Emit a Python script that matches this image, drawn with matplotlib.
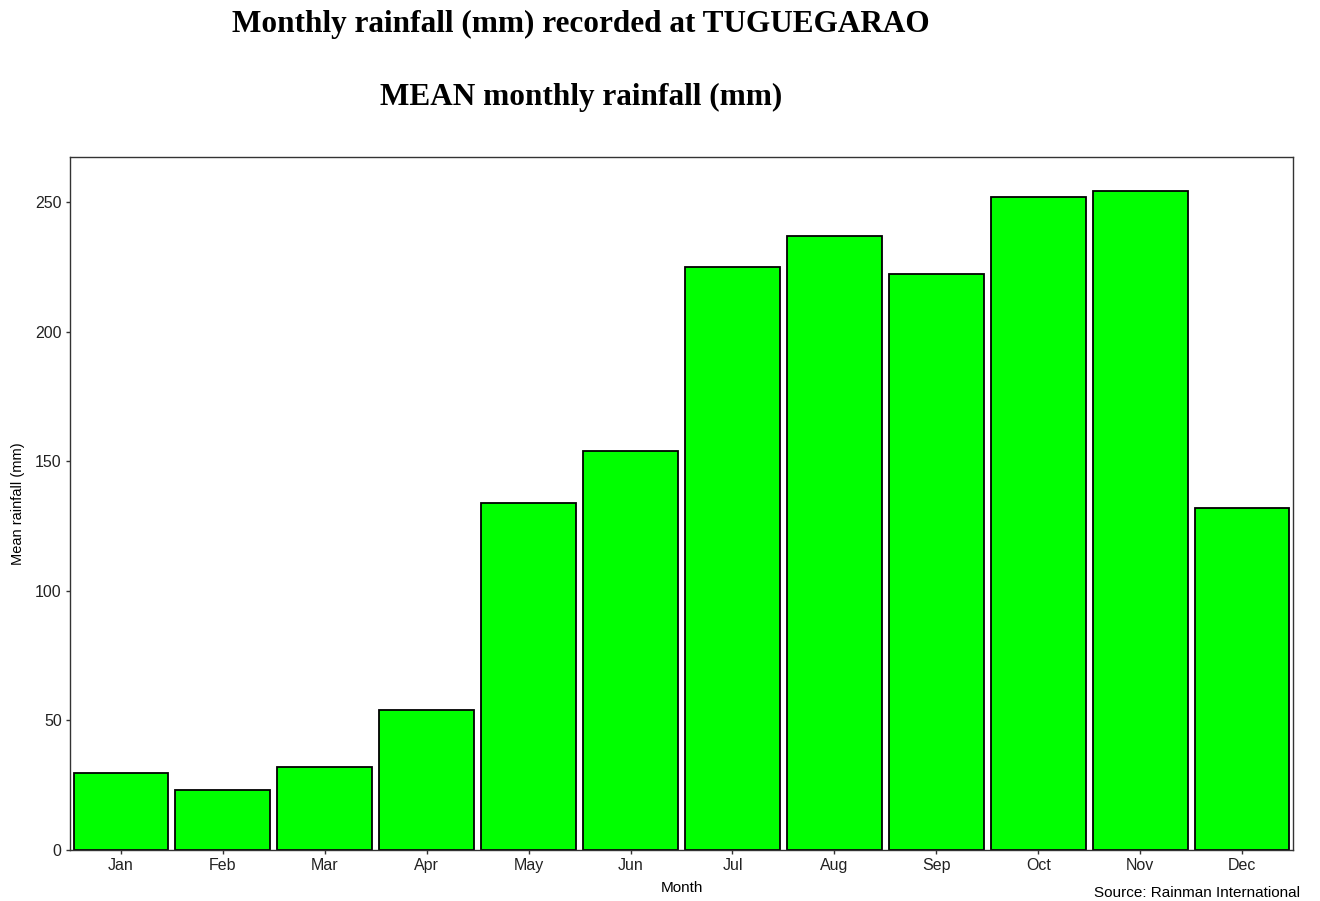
import matplotlib
matplotlib.use('Agg')
import matplotlib.pyplot as plt
import numpy as np

meses = ['Jan', 'Feb', 'Mar', 'Apr', 'May', 'Jun', 'Jul', 'Aug', 'Sep', 'Oct', 'Nov', 'Dec']
chuva_media = [29.7, 23.1, 32.0, 54.0, 133.9, 153.9, 224.9, 236.9, 222.2, 251.9, 254.2, 131.9]
ticks_y = [0, 50, 100, 150, 200, 250]

fig = plt.figure(figsize = (13.2, 9.01), dpi = 100)
ax = fig.add_axes([70 / 1320, 1 - 850 / 901, 1223 / 1320, 693 / 901])

x = np.arange(len(meses))
ax.bar(x, chuva_media, width = 0.93, color = '#00ff00', edgecolor = 'black', linewidth = 1.3)

ax.set_xlim(-0.5, 11.5)
ax.set_ylim(0, 267.4)
ax.set_xticks(x)
ax.set_xticklabels(meses, fontsize = 11.5, family = 'Liberation Sans', color = '#222222')
ax.set_yticks(ticks_y)
ax.set_yticklabels([str(v) for v in ticks_y], fontsize = 11.5, family = 'Liberation Sans', color = '#222222')
ax.tick_params(length = 3, width = 1, color = '#333333', pad = 3)
for s in ax.spines.values():
    s.set_color('#333333')
    s.set_linewidth(1)

ax.set_xlabel('Month', fontsize = 11, family = 'Liberation Sans')
ax.xaxis.set_label_coords(0.5, -(881 - 850) / 693)
ax.set_ylabel('Mean rainfall (mm)', fontsize = 10.5, family = 'Liberation Sans')
ax.yaxis.set_label_coords(-45 / 1223, 0.5)

fig.text(581 / 1320, 1 - 24 / 901, 'Monthly rainfall (mm) recorded at TUGUEGARAO', ha = 'center', va = 'center',
         fontsize = 22.5, fontweight = 'bold', family = 'Liberation Serif')
fig.text(581 / 1320, 1 - 97 / 901, 'MEAN monthly rainfall (mm)', ha = 'center', va = 'center',
         fontsize = 22.5, fontweight = 'bold', family = 'Liberation Serif')
fig.text(1300 / 1320, 1 - 893 / 901, 'Source: Rainman International', ha = 'right', va = 'center',
         fontsize = 11, family = 'Liberation Sans')

fig.savefig('out.png', dpi = 100)
